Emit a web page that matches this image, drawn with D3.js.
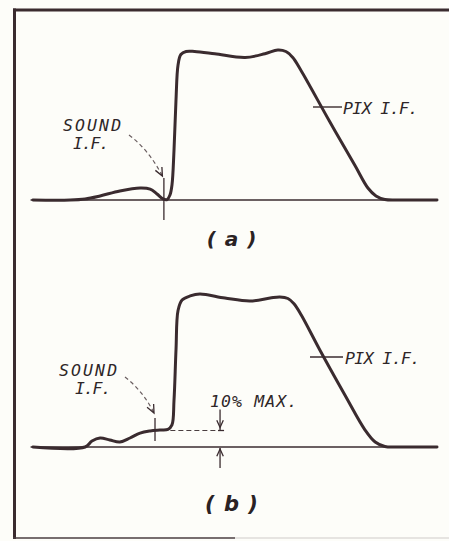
<!DOCTYPE html>
<html>
<head>
<meta charset="utf-8">
<script src="https://cdn.jsdelivr.net/npm/d3@7"></script>
<style>
  html, body { margin: 0; padding: 0; background: #fdfdf9; }
  svg { display: block; }
  .lbl { font-family: "DejaVu Sans Mono", monospace; font-style: italic; fill: #2e2628; }
  .pl { font-family: "DejaVu Sans", sans-serif; font-style: italic; font-weight: bold; fill: #2a2224; }
</style>
</head>
<body>
<script>
// ---- data (frequency in arbitrary units 0..100, response in % of max) ----
const freqA = [0, 9.2, 12.9, 16.6, 21.5, 26.5, 29, 30.7, 32.2, 33.2, 33.9, 34.4, 34.9, 35.4, 35.9, 36.6, 37.9, 40, 45, 52.5, 57.4, 60.6, 62.6, 64.3, 66.2, 73.5, 79.7, 82.9, 84.9, 87.1, 90.8, 100];
const respA = [0, 0, 0.7, 2.7, 6, 8, 7.3, 4, 0.7, 0.3, 3.3, 10, 33, 67, 90, 97, 99, 99, 97.5, 95, 97.5, 100, 99, 95, 87, 52, 23, 8, 2.7, 0.3, 0, 0];
const freqB = [0, 12.9, 14.6, 16.6, 19, 21.5, 24, 26.5, 29, 31.4, 33.4, 34.4, 34.9, 35.4, 35.9, 36.9, 38.9, 41.3, 47.5, 53.7, 58.7, 61.1, 63.1, 64.6, 66.4, 71, 77.2, 82.2, 84.7, 87.1, 90.8, 100];
const respB = [0, 0, 4, 6, 4.7, 3.3, 6, 9.3, 10.7, 11.3, 11.7, 14.7, 31, 65, 91, 98, 100.7, 102, 99.3, 97.3, 99.3, 100, 99, 95.5, 88, 64.7, 34.7, 11.3, 3.3, 0.3, 0, 0];
const soundIF = [32.4, 30.2];      // sound carrier marker (panel a, panel b)
const maxLevelB = 11;              // "10% MAX." reference level in panel b
const panelLabels = ["( a )", "( b )"];
const pixLabel = "PIX I.F.";
const soundLabel = ["SOUND", "I.F."];
const maxLabel = "10% MAX.";

const W = 449, H = 541;
const ink = "#3a2b2f";
const svg = d3.select("body").append("svg").attr("width", W).attr("height", H);

// frame (scanned page border)
svg.append("line").attr("x1", 14.5).attr("x2", 14.5).attr("y1", 8.5).attr("y2", 539)
  .attr("stroke", ink).attr("stroke-width", 3);
svg.append("line").attr("x1", 13).attr("x2", 449).attr("y1", 10).attr("y2", 10)
  .attr("stroke", ink).attr("stroke-width", 3);
svg.append("line").attr("x1", 13).attr("x2", 235).attr("y1", 538).attr("y2", 538)
  .attr("stroke", "#4a3e40").attr("stroke-width", 1.6);
svg.append("line").attr("x1", 235).attr("x2", 449).attr("y1", 538).attr("y2", 538)
  .attr("stroke", "#4a3e40").attr("stroke-width", 1).attr("opacity", 0.25);

const x = d3.scaleLinear().domain([0, 100]).range([33, 437]);

function arrowHead(g, tx, ty, dx, dy, len, color, w) {
  const a = Math.atan2(dy, dx);
  const s = 0.42;
  const p1 = [tx - len * Math.cos(a - s), ty - len * Math.sin(a - s)];
  const p2 = [tx - len * Math.cos(a + s), ty - len * Math.sin(a + s)];
  g.append("path").attr("d", `M${p1[0]},${p1[1]}L${tx},${ty}L${p2[0]},${p2[1]}`)
    .attr("fill", "none").attr("stroke", color).attr("stroke-width", w);
}

function panel(freq, resp, y0) {
  const y = d3.scaleLinear().domain([0, 100]).range([y0, y0 - 150]);
  const g = svg.append("g");
  g.append("line").attr("x1", x(-0.6)).attr("x2", x(100)).attr("y1", y(0)).attr("y2", y(0))
    .attr("stroke", ink).attr("stroke-width", 1.5);
  const line = d3.line().x((d, i) => x(freq[i])).y((d, i) => y(resp[i]))
    .curve(d3.curveCatmullRom.alpha(0.5));
  g.append("path").datum(resp).attr("d", line)
    .attr("fill", "none").attr("stroke", ink).attr("stroke-width", 3)
    .attr("stroke-linejoin", "round").attr("stroke-linecap", "round");
  return { g, y };
}

// ---- panel (a) ----
const A = panel(freqA, respA, 200);
{
  const g = A.g, y = A.y;
  const sx = x(soundIF[0]);
  g.append("line").attr("x1", sx).attr("x2", sx).attr("y1", y(0) - 22).attr("y2", y(0) + 20)
    .attr("stroke", ink).attr("stroke-width", 1.3);
  const ex = sx - 1.5, ey = y(0) - 24;
  g.append("path").attr("d", `M129,135 Q149,150 ${ex},${ey}`)
    .attr("fill", "none").attr("stroke", "#6a5e60").attr("stroke-width", 1.2).attr("stroke-dasharray", "4,3");
  arrowHead(g, ex, ey, ex - 149, ey - 150, 9, ink, 1.3);
  g.append("text").attr("class", "lbl").attr("x", 63).attr("y", 131)
    .attr("font-size", 16.5).attr("letter-spacing", 2.1).text(soundLabel[0]);
  g.append("text").attr("class", "lbl").attr("x", 73).attr("y", 149)
    .attr("font-size", 16.5).attr("letter-spacing", -1.2).text(soundLabel[1]);
  g.append("line").attr("x1", 313).attr("x2", 342).attr("y1", 107).attr("y2", 107)
    .attr("stroke", ink).attr("stroke-width", 1.4);
  g.append("text").attr("class", "lbl").attr("x", 343).attr("y", 114)
    .attr("font-size", 16.5).attr("letter-spacing", -0.6).text(pixLabel);
  g.append("text").attr("class", "pl").attr("x", 232).attr("y", 246).attr("text-anchor", "middle")
    .attr("font-size", 20).attr("letter-spacing", 1).text(panelLabels[0]);
}

// ---- panel (b) ----
const B = panel(freqB, respB, 447);
{
  const g = B.g, y = B.y;
  const sx = x(soundIF[1]);
  g.append("line").attr("x1", sx).attr("x2", sx).attr("y1", y(0) - 29).attr("y2", y(0) - 6)
    .attr("stroke", ink).attr("stroke-width", 1.3);
  const ex = sx - 1, ey = y(0) - 34;
  g.append("path").attr("d", `M125,377 Q143,391 ${ex},${ey}`)
    .attr("fill", "none").attr("stroke", "#6a5e60").attr("stroke-width", 1.2).attr("stroke-dasharray", "4,3");
  arrowHead(g, ex, ey, ex - 143, ey - 391, 9, ink, 1.3);
  g.append("text").attr("class", "lbl").attr("x", 59).attr("y", 376)
    .attr("font-size", 16.5).attr("letter-spacing", 2.1).text(soundLabel[0]);
  g.append("text").attr("class", "lbl").attr("x", 75).attr("y", 394)
    .attr("font-size", 16.5).attr("letter-spacing", -1.2).text(soundLabel[1]);
  const mx = x(46.3);
  g.append("line").attr("x1", x(34)).attr("x2", mx).attr("y1", y(maxLevelB)).attr("y2", y(maxLevelB))
    .attr("stroke", "#4a3e40").attr("stroke-width", 1.2).attr("stroke-dasharray", "5,3");
  g.append("line").attr("x1", mx - 2).attr("x2", mx + 4).attr("y1", y(maxLevelB)).attr("y2", y(maxLevelB))
    .attr("stroke", ink).attr("stroke-width", 1.3);
  g.append("line").attr("x1", mx).attr("x2", mx).attr("y1", y(maxLevelB) - 21).attr("y2", y(maxLevelB))
    .attr("stroke", ink).attr("stroke-width", 1.3);
  arrowHead(g, mx, y(maxLevelB) - 3, 0, 1, 8, ink, 1.3);
  g.append("line").attr("x1", mx).attr("x2", mx).attr("y1", y(0) + 21).attr("y2", y(0) + 1)
    .attr("stroke", ink).attr("stroke-width", 1.3);
  arrowHead(g, mx, y(0) + 2, 0, -1, 8, ink, 1.3);
  g.append("text").attr("class", "lbl").attr("x", 210).attr("y", 407)
    .attr("font-size", 16.5).attr("letter-spacing", 1.1).text(maxLabel);
  g.append("line").attr("x1", 310).attr("x2", 343).attr("y1", 357).attr("y2", 357)
    .attr("stroke", ink).attr("stroke-width", 1.4);
  g.append("text").attr("class", "lbl").attr("x", 345).attr("y", 364)
    .attr("font-size", 16.5).attr("letter-spacing", -0.6).text(pixLabel);
  g.append("text").attr("class", "pl").attr("x", 232).attr("y", 511).attr("text-anchor", "middle")
    .attr("font-size", 21).attr("letter-spacing", 1).text(panelLabels[1]);
}
</script>
</body>
</html>
